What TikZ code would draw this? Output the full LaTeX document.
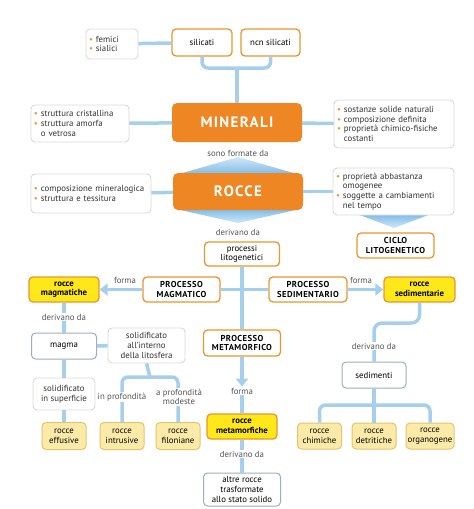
\documentclass[tikz,border=0pt]{standalone}
\usepackage{fontspec}
\setmainfont{PT Sans}
\usepackage{xcolor}
\usetikzlibrary{arrows.meta}

\definecolor{orfill}{HTML}{EE8723}
\definecolor{orline}{HTML}{E8962F}
\definecolor{linkblue}{HTML}{A6CFEE}
\definecolor{triblue}{HTML}{7DBBE8}
\definecolor{rockyellow}{HTML}{FFE81A}
\definecolor{paleyellow}{HTML}{FCEBA8}
\definecolor{paleline}{HTML}{E6C46A}
\definecolor{noteline}{HTML}{D9D9D2}
\definecolor{greyblue}{HTML}{9AAFBD}
\definecolor{labelgrey}{HTML}{555555}
\definecolor{bulorange}{HTML}{E8962F}

\newcommand\boxfont{\fontsize{8.8}{9.6}\selectfont}
\newcommand\capfont{\fontsize{8.6}{9.4}\selectfont\bfseries\addfontfeature{LetterSpace=5}}
\newcommand\mbul{\textcolor{bulorange}{\textbullet}\ }

\begin{document}
\begin{tikzpicture}[
    x=1pt, y=-1pt,
    link/.style={line width=3.5pt, draw=linkblue},
    fwd/.style={link, -{Triangle[width=12pt,length=8pt]}},
    note/.style={draw=noteline, fill=white, rounded corners=4pt, line width=0.9pt, align=left, inner xsep=3pt, inner ysep=2pt, text width=#1, font=\boxfont, text=black!80},
    term/.style={draw=orline, fill=white, rounded corners=4pt, line width=1.3pt, align=center, inner sep=1pt, font=\boxfont},
    proc/.style={term, font=\capfont},
    big/.style={fill=orfill, rounded corners=5pt, text=white, font=\fontsize{15}{15}\selectfont\bfseries\addfontfeature{LetterSpace=9}},
    rock/.style={draw=orline, fill=rockyellow, rounded corners=4pt, line width=1.3pt, align=center, inner sep=1pt, font=\boxfont\bfseries},
    subrock/.style={draw=paleline, fill=paleyellow, rounded corners=4pt, line width=1pt, align=center, inner sep=1pt, font=\boxfont},
    datum/.style={draw=greyblue, fill=white, rounded corners=4pt, line width=1pt, align=center, inner sep=1pt, font=\boxfont},
    soft/.style={draw=noteline, fill=white, rounded corners=4pt, line width=0.9pt, align=center, inner sep=1pt, font=\boxfont, text=black!80},
    lbl/.style={font=\boxfont, text=labelgrey, inner sep=1pt}
]
\useasboundingbox (0,0) rectangle (474,509);

% wide arrows round ROCCE
\shade[top color=triblue!35, bottom color=triblue] (179,174) -- (297,174) -- (238,157) -- cycle;
\shade[top color=triblue, bottom color=triblue!35] (176,209) -- (300,209) -- (238,223) -- cycle;
\shade[top color=triblue, bottom color=triblue!35] (357,214) -- (431,214) -- (394,228) -- cycle;

% minerali
\node[term, minimum width=60pt, minimum height=27pt] (silicati) at (202,42.5) {silicati};
\node[term, minimum width=59pt, minimum height=27pt] (ncn) at (270.5,42.5) {ncn silicati};
\node[note=46pt, minimum height=30pt] (femici) at (112,44) {\mbul femici\\\mbul sialici};
\node[big, minimum width=130pt, minimum height=39pt] (minerali) at (237,122.5) {MINERALI};
\node[note=92pt, minimum height=37pt] (struttura) at (80,123.5) {\mbul struttura cristallina\\\mbul struttura amorfa\\\hphantom{\mbul}o vetrosa};
\node[note=114pt, minimum height=48pt] (sostanze) at (394,124) {\mbul sostanze solide naturali\\\mbul composizione definita\\\mbul proprietà chimico-fisiche\\\hphantom{\mbul}costanti};
\node[lbl] (formate) at (238,153) {sono formate da};

% rocce
\node[big, minimum width=130pt, minimum height=37pt] (rocce) at (238,191.5) {ROCCE};
\node[note=114pt, minimum height=39pt] (composizione) at (91,193.5) {\mbul composizione mineralogica\\\mbul struttura e tessitura};
\node[note=115pt, minimum height=47pt] (proprieta) at (393.5,191.5) {\mbul proprietà abbastanza\\\hphantom{\mbul}omogenee\\\mbul soggette a cambiamenti\\\hphantom{\mbul}nel tempo};
\node[proc, minimum width=77pt, minimum height=25pt] (ciclo) at (395.5,245.5) {CICLO\\LITOGENETICO};
\node[lbl] (derivano) at (238,232) {derivano da};
\node[term, minimum width=75pt, minimum height=24pt] (processi) at (242,254) {processi\\litogenetici};

% processi
\node[proc, minimum width=77pt, minimum height=25pt] (magmatico) at (181.5,289.5) {PROCESSO\\MAGMATICO};
\node[proc, minimum width=78pt, minimum height=25pt] (sedimentario) at (308,289.5) {PROCESSO\\SEDIMENTARIO};
\node[proc, minimum width=77pt, minimum height=26pt] (metamorfico) at (242,343) {PROCESSO\\METAMORFICO};
\node[rock, minimum width=70pt, minimum height=25pt] (magmatiche) at (64,289.5) {rocce\\magmatiche};
\node[rock, minimum width=71pt, minimum height=25pt] (sedimentarie) at (419.5,289.5) {rocce\\sedimentarie};
\node[rock, minimum width=70pt, minimum height=25pt] (metamorfiche) at (242,426.5) {rocce\\metamorfiche};
\node[lbl] (fmag) at (125,280) {forma};
\node[lbl] (fsed) at (361,280) {forma};
\node[lbl] (fmeta) at (242,391) {forma};

% ramo magmatico
\node[lbl] (dmag) at (64,317) {derivano da};
\node[datum, minimum width=65pt, minimum height=26pt] (magma) at (64,346) {magma};
\node[soft, minimum width=77pt, minimum height=35pt] (interno) at (146.5,345.5) {solidificato\\all'interno\\della litosfera};
\node[soft, minimum width=62pt, minimum height=32pt] (superficie) at (64,394) {solidificato\\in superficie};
\node[subrock, minimum width=44pt, minimum height=27pt] (effusive) at (64,436) {rocce\\effusive};
\node[subrock, minimum width=44pt, minimum height=27pt] (intrusive) at (122,436) {rocce\\intrusive};
\node[subrock, minimum width=44pt, minimum height=27pt] (filoniane) at (178,436) {rocce\\filoniane};

% ramo metamorfico
\node[lbl] (dmeta) at (242,454) {derivano da};
\node[datum, minimum width=77pt, minimum height=33pt] (altre) at (242,489.5) {altre rocce\\trasformate\\allo stato solido};

% ramo sedimentario
\node[datum, minimum width=64pt, minimum height=26pt] (sedimenti) at (374,375) {sedimenti};
\node[subrock, minimum width=44pt, minimum height=26pt] (chimiche) at (319.5,436) {rocce\\chimiche};
\node[subrock, minimum width=44pt, minimum height=26pt] (detritiche) at (374,436) {rocce\\detritiche};
\node[subrock, minimum width=48pt, minimum height=26pt] (organogene) at (430,436) {rocce\\organogene};

% junctions
\coordinate (jmin) at (237,68);
\coordinate (jint) at (150,377);
\coordinate (jsed) at (374,323);
\coordinate (jsedi) at (374,405);

% connectors
\draw[link] (femici) -- (silicati);
\draw[link, rounded corners=6pt] (silicati.south) |- (jmin) -| (ncn.south);
\draw[link] (jmin) -- (minerali.north);
\draw[link] (struttura) -- (minerali);
\draw[link] (minerali) -- (sostanze);
\draw[link] (composizione) -- (rocce);
\draw[link] (rocce) -- (proprieta);

\draw[link] (processi) -- (metamorfico);
\draw[link] (magmatico) -- (sedimentario);
\draw[fwd] (magmatico) -- (magmatiche);
\draw[fwd] (sedimentario) -- (sedimentarie);
\draw[fwd] (metamorfico) -- (fmeta);
\draw[link] (fmeta) -- (metamorfiche);

\draw[link] (magmatiche) -- (dmag);
\draw[link] (dmag) -- (magma);
\draw[link] (magma) -- (interno);
\draw[link] (magma) -- (superficie);
\draw[link] (superficie) -- (effusive);
\draw[link] (interno.south) -- (jint);
\draw[link, rounded corners=6pt] (intrusive.north) |- (jint) -| (filoniane.north);

\draw[link] (metamorfiche) -- (dmeta);
\draw[link] (dmeta) -- (altre);

\draw[link, rounded corners=8pt] (sedimentarie.south) |- (jsed) -- (sedimenti.north);
\draw[link] (sedimenti.south) -- (jsedi);
\draw[link, rounded corners=6pt] (chimiche.north) |- (jsedi) -| (organogene.north);
\draw[link] (jsedi) -- (detritiche.north);

% labels on the lines
\node[lbl, fill=white] (inprof) at (122,397) {in profondità};
\node[lbl, fill=white, align=center] (modeste) at (179,397) {a profondità\\modeste};
\node[lbl, fill=white] (dsed) at (374,346) {derivano da};
\end{tikzpicture}
\end{document}
